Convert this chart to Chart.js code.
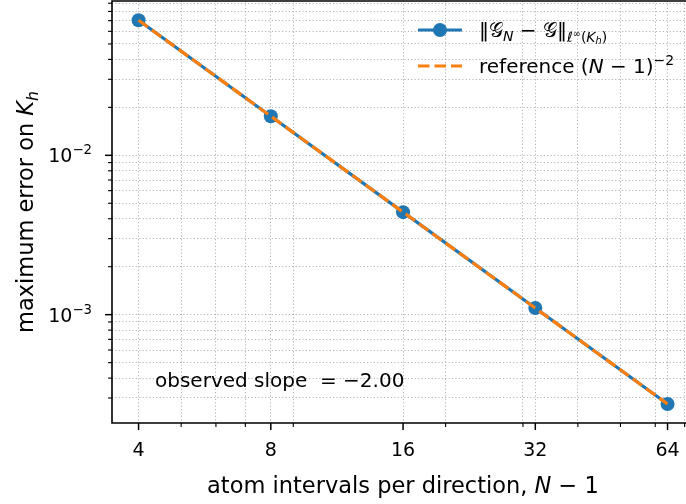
<!DOCTYPE html>
<html>
<head>
<meta charset="utf-8">
<script src="https://cdn.jsdelivr.net/npm/chart.js@4"></script>
<style>
  html, body { margin: 0; padding: 0; background: #fff; overflow: hidden; }
  canvas { display: block; }
</style>
</head>
<body>
<canvas id="conv-chart" width="686" height="504"></canvas>
<script>
// data
const intervals = [4, 8, 16, 32, 64];
const maxError = [0.0704, 0.0176, 0.0044, 0.0011, 0.000275];
const referenceRate = [0.0704, 0.0176, 0.0044, 0.0011, 0.000275];
const xTickLabels = ["4", "8", "16", "32", "64"];
const xMinorTicks = [5, 6, 7, 9, 20, 30, 40, 50, 60, 70];
const yMajorTicks = [1e-3, 1e-2];
const yTickExponents = ["\u22123", "\u22122"];

const FONT = "'DejaVu Sans', sans-serif";
const BLUE = "#1f77b4";
const ORANGE = "#ff7f0e";
const GRID = "rgba(150, 150, 150, 0.7)";
const LINE_W = 3.2;
const DASH = [11.5, 5];
const MARKER_R = 7;
const X_MIN = 3.48, X_MAX = 70.5, X_AXES_END = 73.5; // axes runs past the right edge
const Y_MIN = 2.09e-4, Y_MAX = 0.093;

const yMinorTicks = [];
for (const d of [1e-4, 1e-3, 1e-2]) {
  for (let m = 2; m <= 9; m++) yMinorTicks.push(m * d);
}

// least squares slope in log-log
function fitSlope(xs, ys) {
  const lx = xs.map(Math.log), ly = ys.map(Math.log);
  const mx = lx.reduce((a, b) => a + b) / lx.length;
  const my = ly.reduce((a, b) => a + b) / ly.length;
  let num = 0, den = 0;
  for (let i = 0; i < lx.length; i++) {
    num += (lx[i] - mx) * (ly[i] - my);
    den += (lx[i] - mx) * (lx[i] - mx);
  }
  return num / den;
}

// text made of pieces (sub/superscripts, italics)
function partsWidth(ctx, parts) {
  let w = 0;
  for (const p of parts) {
    ctx.font = (p.italic ? "italic " : "") + p.size + "px " + FONT;
    w += ctx.measureText(p.t).width;
  }
  return w;
}
function drawParts(ctx, x, y, parts) {
  for (const p of parts) {
    ctx.font = (p.italic ? "italic " : "") + p.size + "px " + FONT;
    ctx.fillText(p.t, x, y + (p.dy || 0));
    x += ctx.measureText(p.t).width;
  }
  return x;
}

const decor = {
  id: "decor",
  afterDraw(chart) {
    const { ctx, chartArea } = chart;
    const { left, right, top, bottom } = chartArea;
    const xs = chart.scales.x, ys = chart.scales.y;
    ctx.save();
    ctx.fillStyle = "#000";
    ctx.strokeStyle = "#000";
    ctx.textAlign = "left";
    ctx.textBaseline = "alphabetic";

    // ticks
    xs.ticks.forEach((t) => {
      const px = xs.getPixelForValue(t.value);
      const major = intervals.includes(t.value);
      ctx.lineWidth = major ? 1.5 : 1.1;
      ctx.beginPath();
      ctx.moveTo(px, bottom);
      ctx.lineTo(px, bottom + (major ? 7 : 4));
      ctx.stroke();
    });
    ys.ticks.forEach((t) => {
      const py = ys.getPixelForValue(t.value);
      const major = yMajorTicks.includes(t.value);
      ctx.lineWidth = major ? 1.5 : 1.1;
      ctx.beginPath();
      ctx.moveTo(left, py);
      ctx.lineTo(left - (major ? 7 : 4), py);
      ctx.stroke();
    });

    // y tick labels 10^k
    yMajorTicks.forEach((v, i) => {
      const py = ys.getPixelForValue(v);
      const parts = [
        { t: "10", size: 19 },
        { t: yTickExponents[i], size: 13.3, dy: -8 },
      ];
      const w = partsWidth(ctx, parts);
      drawParts(ctx, left - 20 - w, py + 7, parts);
    });

    // spines (right one is outside the picture)
    ctx.lineWidth = 1.6;
    ctx.beginPath();
    ctx.moveTo(right, top);
    ctx.lineTo(left, top);
    ctx.lineTo(left, bottom);
    ctx.lineTo(right, bottom);
    ctx.stroke();

    // axis titles
    const xMid = xs.getPixelForValue(Math.sqrt(X_MIN * X_AXES_END));
    const xl = [
      { t: "atom intervals per direction, ", size: 22.5 },
      { t: "N", size: 22.5, italic: true },
      { t: " \u2212 1", size: 22.5 },
    ];
    drawParts(ctx, xMid - partsWidth(ctx, xl) / 2, 493, xl);

    const yl = [
      { t: "maximum error on ", size: 22.5 },
      { t: "K", size: 22.5, italic: true },
      { t: "h", size: 15.7, italic: true, dy: 5 },
    ];
    ctx.save();
    ctx.translate(33, (top + bottom) / 2);
    ctx.rotate(-Math.PI / 2);
    drawParts(ctx, -partsWidth(ctx, yl) / 2, 0, yl);
    ctx.restore();

    // legend
    const lx0 = left + 306, lx1 = left + 350;
    const ly1 = top + 29, ly2 = top + 65;
    ctx.strokeStyle = BLUE;
    ctx.lineWidth = LINE_W;
    ctx.beginPath();
    ctx.moveTo(lx0, ly1);
    ctx.lineTo(lx1, ly1);
    ctx.stroke();
    ctx.fillStyle = BLUE;
    ctx.beginPath();
    ctx.arc((lx0 + lx1) / 2, ly1, MARKER_R, 0, Math.PI * 2);
    ctx.fill();
    ctx.strokeStyle = ORANGE;
    ctx.setLineDash(DASH);
    ctx.beginPath();
    ctx.moveTo(lx0, ly2);
    ctx.lineTo(lx1, ly2);
    ctx.stroke();
    ctx.setLineDash([]);

    ctx.fillStyle = "#000";
    const tx = lx1 + 17;
    drawParts(ctx, tx, ly1 + 7, [
      { t: "\u2016", size: 20 },
      { t: "\uD835\uDCA2", size: 20 },
      { t: "N", size: 14, italic: true, dy: 4 },
      { t: " \u2212 ", size: 20 },
      { t: "\uD835\uDCA2", size: 20 },
      { t: "\u2016", size: 20 },
      { t: "\u2113", size: 14, dy: 5 },
      { t: "\u221E", size: 9.8, dy: 0 },
      { t: "(", size: 14, dy: 5 },
      { t: "K", size: 14, italic: true, dy: 5 },
      { t: "h", size: 9.8, italic: true, dy: 7 },
      { t: ")", size: 14, dy: 5 },
    ]);
    drawParts(ctx, tx, ly2 + 7, [
      { t: "reference (", size: 20 },
      { t: "N", size: 20, italic: true },
      { t: " \u2212 1)", size: 20 },
      { t: "\u22122", size: 14, dy: -8.5 },
    ]);

    // slope note
    const slope = fitSlope(intervals, maxError).toFixed(2).replace("-", "\u2212");
    ctx.font = "20px " + FONT;
    ctx.fillText("observed slope  = " + slope, left + 43, bottom - 36);

    ctx.restore();
  },
};

new Chart(document.getElementById("conv-chart"), {
  type: "line",
  data: {
    datasets: [
      {
        label: "reference (N-1)^-2",
        data: intervals.map((x, i) => ({ x: x, y: referenceRate[i] })),
        borderColor: ORANGE,
        borderWidth: LINE_W,
        borderDash: DASH,
        pointRadius: 0,
        tension: 0,
        fill: false,
        order: 1,
      },
      {
        label: "max error",
        data: intervals.map((x, i) => ({ x: x, y: maxError[i] })),
        borderColor: BLUE,
        backgroundColor: BLUE,
        borderWidth: LINE_W,
        pointRadius: MARKER_R,
        pointBorderWidth: 0,
        pointBackgroundColor: BLUE,
        tension: 0,
        fill: false,
        order: 2,
      },
    ],
  },
  options: {
    responsive: false,
    animation: false,
    devicePixelRatio: 1,
    layout: { autoPadding: false, padding: { top: 1, right: 0, bottom: 0, left: 0 } },
    plugins: {
      legend: { display: false },
      tooltip: { enabled: false },
    },
    scales: {
      x: {
        type: "logarithmic",
        min: X_MIN,
        max: X_MAX,
        bounds: "data",
        afterBuildTicks: (scale) => {
          scale.ticks = intervals
            .concat(xMinorTicks)
            .filter((v) => v < X_MAX)
            .sort((a, b) => a - b)
            .map((v) => ({ value: v }));
        },
        afterFit: (scale) => {
          scale.height = 81;
          scale.paddingLeft = 0;
          scale.paddingRight = 0;
        },
        ticks: {
          autoSkip: false,
          maxRotation: 0,
          padding: 17,
          color: "#000",
          font: { family: FONT, size: 19 },
          callback: (v) => {
            const i = intervals.indexOf(v);
            return i >= 0 ? xTickLabels[i] : "";
          },
        },
        grid: { color: GRID, lineWidth: 1, drawTicks: false },
        border: { display: false, dash: [1.2, 2.2] },
      },
      y: {
        type: "logarithmic",
        min: Y_MIN,
        max: Y_MAX,
        bounds: "data",
        afterBuildTicks: (scale) => {
          scale.ticks = yMajorTicks
            .concat(yMinorTicks)
            .filter((v) => v > Y_MIN && v < Y_MAX)
            .sort((a, b) => a - b)
            .map((v) => ({ value: v }));
        },
        afterFit: (scale) => {
          scale.width = 112;
          scale.paddingTop = 0;
          scale.paddingBottom = 0;
        },
        ticks: { display: false },
        grid: { color: GRID, lineWidth: 1, drawTicks: false },
        border: { display: false, dash: [1.2, 2.2] },
      },
    },
  },
  plugins: [decor],
});
</script>
</body>
</html>
